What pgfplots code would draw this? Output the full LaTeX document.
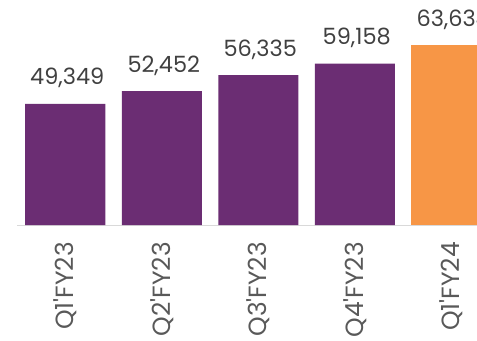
\documentclass[border=0pt]{standalone}
\usepackage{fontspec}
\setmainfont{Poppins}
\usepackage{pgfplots}
\pgfplotsset{compat=1.18}
\definecolor{barpurple}{HTML}{6B2D73}
\definecolor{barorange}{HTML}{F79646}
\definecolor{lbl}{HTML}{404040}
\definecolor{ticktext}{HTML}{595959}
\definecolor{baseline}{HTML}{D9D9D9}
\begin{document}
\begin{tikzpicture}
\begin{axis}[name=ax, scale only axis, width=482.5bp, height=206.15bp,
  xmin=-0.5, xmax=4.5, ymin=20000, ymax=70000,
  axis y line=none, axis x line*=bottom,
  x axis line style={draw=baseline, line width=1bp, -},
  ytick=\empty, xtick={0,1,2,3,4},
  xticklabels={Q1\textquotesingle FY23, Q2\textquotesingle FY23, Q3\textquotesingle FY23, Q4\textquotesingle FY23, Q1\textquotesingle FY24},
  major tick length=0pt,
  xticklabel shift=17bp,
  xticklabel style={rotate=90, anchor=east, inner sep=0pt, font=\fontsize{25}{30}\selectfont, text=ticktext},
  ybar, bar width=80bp, bar shift=0pt,
  nodes near coords,
  every node near coord/.append style={anchor=base, xshift=2bp, yshift=19bp, inner sep=0pt, font=\fontsize{22.5}{26}\selectfont, text=lbl},
  /pgf/number format/.cd, 1000 sep={,}, assume math mode=true
]
\addplot[fill=barpurple, draw=none] coordinates {(0,49349) (1,52452) (2,56335) (3,59158)};
\addplot[fill=barorange, draw=none] coordinates {(4,63634)};
\end{axis}
\pgfresetboundingbox
\path[use as bounding box] ([xshift=-17bp, yshift=-116bp]ax.south west) rectangle ([xshift=460bp, yshift=225bp]ax.south west);
\end{tikzpicture}
\end{document}
